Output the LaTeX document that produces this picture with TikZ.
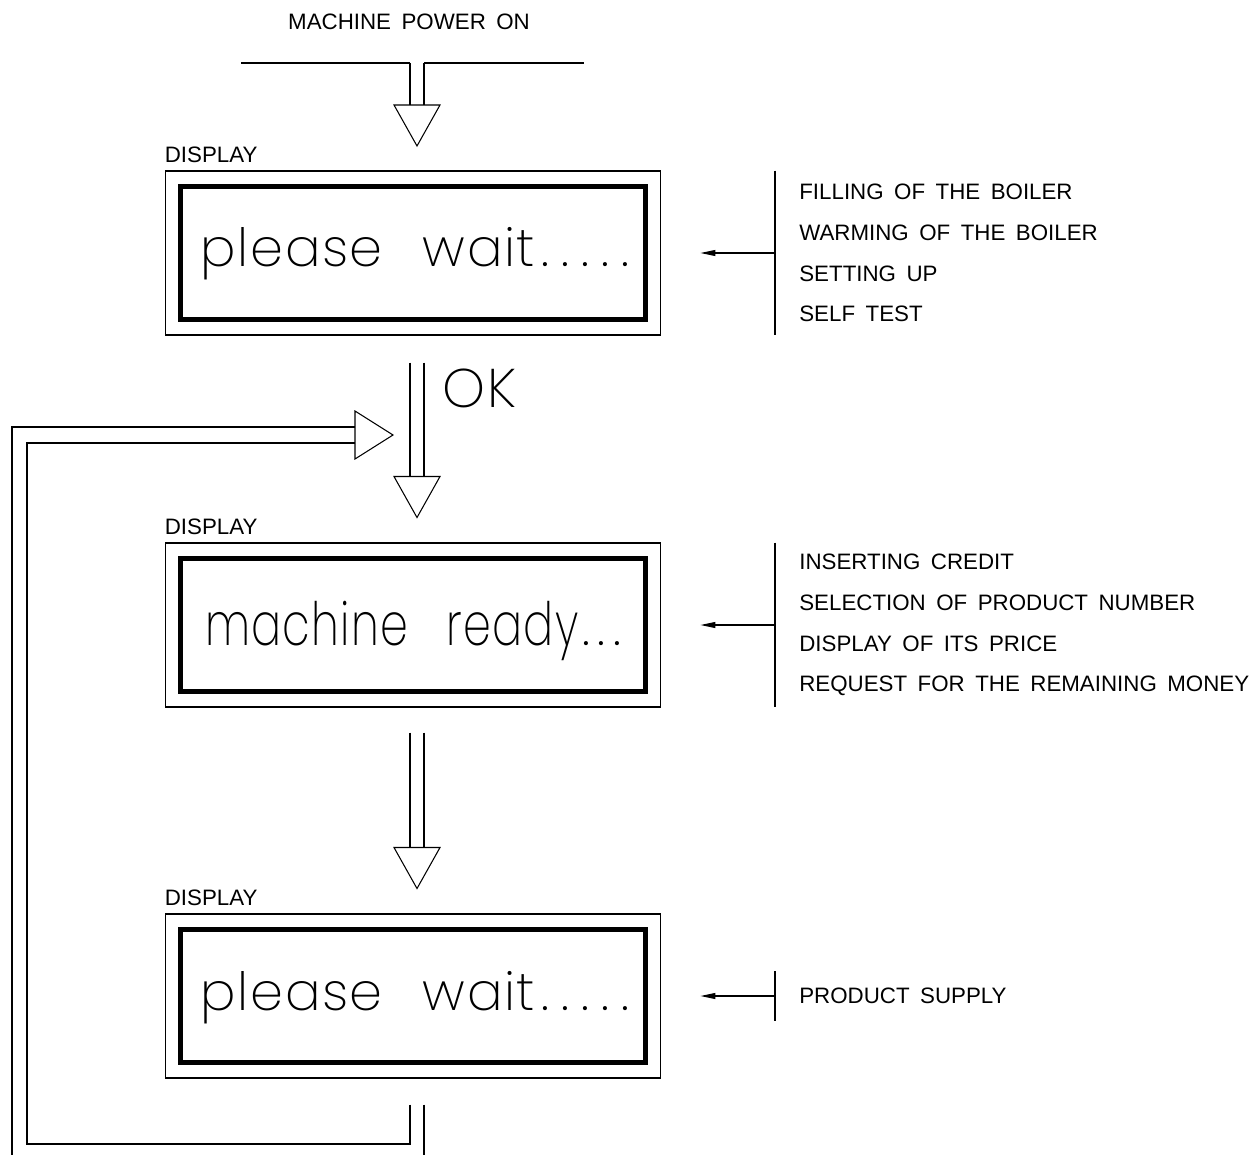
\documentclass[tikz,border=0pt]{standalone}
\usepackage{fontspec}
\setmainfont{Liberation Sans}
\newfontfamily\lcdfont{Poppins ExtraLight}[LetterSpace=3]
\usetikzlibrary{arrows.meta,calc,positioning}

\newcommand{\plotfont}{\fontsize{12.7}{23.2}\selectfont\spaceskip=0.47em\relax}
% a row of evenly spaced dots on the display
\newcommand{\lcddots}[2]{\foreach \d in {1,...,#1}{\makebox[#2]{.}}}

\tikzset{
  flow/.style={line width=0.6pt},
  panel/.style={draw, line width=0.6pt, minimum width=9.92cm, minimum height=3.28cm, inner sep=0pt},
  lcd/.style={draw, line width=2.4pt, minimum width=9.3cm, minimum height=2.66cm, inner sep=0pt},
  message/.style={anchor=base, inner sep=0pt, font=\lcdfont\fontsize{30}{36}\selectfont},
  caption/.style={inner sep=0pt, font=\plotfont},
  notes/.style={align=left, anchor=west, inner xsep=0.48cm, inner ysep=0pt, font=\plotfont},
  infoarrow/.style={line width=0.6pt, -{Triangle[length=0.3cm,width=0.12cm]}, shorten >=0.78cm},
  % hollow double-stem arrow, origin at the top of the stems
  pics/openarrow/.style={code={
    \draw[flow] (-7,0) -- (-7,#1) (7,0) -- (7,#1);
    \draw[flow] (-23,#1) -- (23,#1) -- (0,{#1+41}) -- cycle;}},
}

\begin{document}
\begin{tikzpicture}[x=0.02cm, y=-0.02cm]
  \useasboundingbox (0,0) rectangle (1260,1155);

  % power on feed
  \node[caption] (power) at (409,22) {MACHINE POWER ON};
  \coordinate (feed) at (417,63);
  \draw[flow] ($(feed)+(-176,0)$) -- ($(feed)+(-7,0)$);
  \draw[flow] ($(feed)+(7,0)$) -- ($(feed)+(167,0)$);
  \pic at (feed) {openarrow=42};

  % the three displays
  \node[panel] (panel1) at (413,253) {};
  \node[lcd] (lcd1) at (panel1) {};
  \node[message] (msg1) at ($(lcd1.center)+(5,14)$) {please\hspace{0.8cm}wait\lcddots{5}{0.4cm}};
  \node[caption, anchor=base west] (tag1) at ($(panel1.north west)+(0,-8)$) {DISPLAY};

  \node[panel] (panel2) at (413,625) {};
  \node[lcd] (lcd2) at (panel2) {};
  \node[message] (msg2) at ($(lcd2.center)+(2,20)$)
    {\scalebox{0.745}[1]{\fontsize{34}{40}\selectfont machine\hspace{1.02cm}ready}\lcddots{3}{0.31cm}};
  \node[caption, anchor=base west] (tag2) at ($(panel2.north west)+(0,-8)$) {DISPLAY};

  \node[panel] (panel3) at (413,996) {};
  \node[lcd] (lcd3) at (panel3) {};
  \node[message] (msg3) at ($(lcd3.center)+(5,14)$) {please\hspace{0.8cm}wait\lcddots{5}{0.4cm}};
  \node[caption, anchor=base west] (tag3) at ($(panel3.north west)+(0,-8)$) {DISPLAY};

  % arrows between displays
  \pic at ($(panel1.south)+(4,27)$) {openarrow=114};
  \node[anchor=base west, inner sep=0pt, font=\lcdfont\fontsize{31}{36}\selectfont] (ok) at (442,407) {OK};
  \pic at ($(panel2.south)+(4,25)$) {openarrow=115};

  % return loop back to the ready display
  \coordinate (back) at ($(panel3.south)+(4,26)$);
  \coordinate (entry) at (393,435);
  \draw[flow] ($(back)+(-7,0)$) |- (27,1144) |- ($(entry)+(-38,8)$);
  \draw[flow] ($(back)+(7,0)$) -- ($(back)+(7,51)$);
  \draw[flow] (12,1155) |- ($(entry)+(-38,-8)$);
  \draw[flow] ($(entry)+(-38,-24)$) -- (entry) -- ($(entry)+(-38,24)$) -- cycle;

  % what happens at each step
  \node[notes, minimum height=3.28cm] (list1) at (775,253)
    {FILLING OF THE BOILER\\WARMING OF THE BOILER\\SETTING UP\\SELF TEST};
  \draw[flow] (list1.north west) -- (list1.south west);
  \draw[infoarrow] (list1.west) -- (panel1.east);

  \node[notes, minimum height=3.28cm] (list2) at (775,625)
    {INSERTING CREDIT\\SELECTION OF PRODUCT NUMBER\\DISPLAY OF ITS PRICE\\REQUEST FOR THE REMAINING MONEY};
  \draw[flow] (list2.north west) -- (list2.south west);
  \draw[infoarrow] (list2.west) -- (panel2.east);

  \node[notes, minimum height=0.98cm] (list3) at (775,996) {PRODUCT SUPPLY};
  \draw[flow] (list3.north west) -- (list3.south west);
  \draw[infoarrow] (list3.west) -- (panel3.east);
\end{tikzpicture}
\end{document}
